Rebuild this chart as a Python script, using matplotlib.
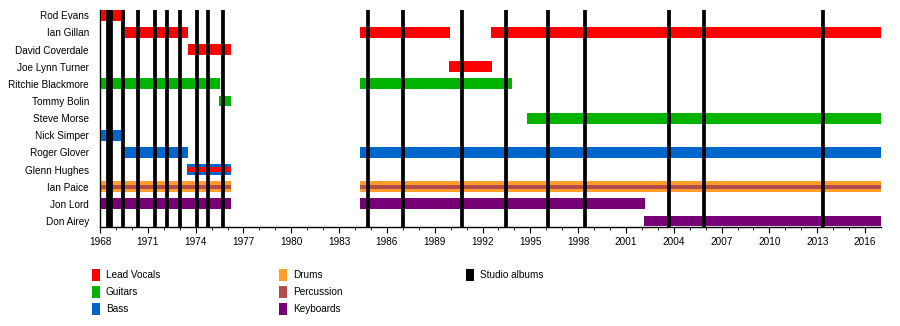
import matplotlib
matplotlib.use("Agg")
import matplotlib.pyplot as plt
from matplotlib.patches import Rectangle

plt.rcParams['font.family'] = ['Liberation Sans', 'DejaVu Sans']

# band members, top to bottom
members = ["Rod Evans", "Ian Gillan", "David Coverdale", "Joe Lynn Turner",
           "Ritchie Blackmore", "Tommy Bolin", "Steve Morse", "Nick Simper",
           "Roger Glover", "Glenn Hughes", "Ian Paice", "Jon Lord", "Don Airey"]

start_year = 1968.0
end_year = 2017.0

# (member, from, till) per role
vocals = [("Rod Evans", 1968.0, 1969.57),
          ("Ian Gillan", 1969.57, 1973.5),
          ("Ian Gillan", 1984.32, 1989.95),
          ("Ian Gillan", 1992.55, end_year),
          ("David Coverdale", 1973.5, 1976.22),
          ("Joe Lynn Turner", 1989.9, 1992.6)]
guitars = [("Ritchie Blackmore", 1968.0, 1975.53),
           ("Ritchie Blackmore", 1984.32, 1993.84),
           ("Tommy Bolin", 1975.47, 1976.22),
           ("Steve Morse", 1994.8, end_year)]
bass = [("Nick Simper", 1968.0, 1969.5),
        ("Roger Glover", 1969.5, 1973.5),
        ("Roger Glover", 1984.32, end_year),
        ("Glenn Hughes", 1973.45, 1976.22)]
drums = [("Ian Paice", 1968.0, 1976.22),
         ("Ian Paice", 1984.32, end_year)]
keyboards = [("Jon Lord", 1968.0, 1976.22),
             ("Jon Lord", 1984.32, 2002.2),
             ("Don Airey", 2002.15, end_year)]
# thin stripes drawn inside another bar
vocals_stripe = [("Glenn Hughes", 1973.45, 1976.22)]
percussion_stripe = [("Ian Paice", 1968.0, 1976.22),
                     ("Ian Paice", 1984.32, end_year)]

studio_albums = [1968.48, 1968.69, 1969.46, 1970.40, 1971.47, 1972.22,
                 1973.04, 1974.10, 1974.79, 1975.73, 1984.84, 1987.0,
                 1990.71, 1993.47, 1996.1, 1998.4, 2003.67, 2005.87, 2013.34]

colors = {
    "Lead Vocals": "#ff0000",
    "Guitars": "#00b300",
    "Bass": "#0066cc",
    "Drums": "#ff9e2a",
    "Percussion": "#b34d4d",
    "Keyboards": "#770077",
    "Studio albums": "#000000",
}

fig = plt.figure(figsize=(9, 3.26), dpi=100)
ax = fig.add_axes([100 / 900, 1 - 227 / 326, 781 / 900, 217 / 326])

row = {name: i for i, name in enumerate(members)}


def draw(spans, color, height):
    for name, a, b in spans:
        ax.barh(row[name], b - a, left=a, height=height, color=color,
                linewidth=0, zorder=2)


draw(vocals, colors["Lead Vocals"], 0.63)
draw(guitars, colors["Guitars"], 0.63)
draw(bass, colors["Bass"], 0.63)
draw(drums, colors["Drums"], 0.63)
draw(keyboards, colors["Keyboards"], 0.63)
draw(vocals_stripe, colors["Lead Vocals"], 0.27)
draw(percussion_stripe, colors["Percussion"], 0.25)

for yr in studio_albums:
    ax.axvline(yr, color="black", linewidth=2.7, zorder=3)

ax.set_xlim(start_year, end_year)
ax.set_ylim(12.35, -0.31)
ax.set_yticks(range(len(members)))
ax.set_yticklabels(members)
ax.set_xticks(range(1968, 2017, 3))
ax.set_xticks(range(1968, 2017), minor=True)
ax.tick_params(axis="y", length=0, pad=8, labelsize=7.2)
ax.tick_params(axis="x", which="major", length=4, width=0.8, labelsize=7.2, pad=3)
ax.tick_params(axis="x", which="minor", length=2, width=0.6)
for s in ("top", "right"):
    ax.spines[s].set_visible(False)
ax.spines["left"].set_linewidth(1)
ax.spines["bottom"].set_linewidth(1)

# legend block under the chart
legend_cols = [["Lead Vocals", "Guitars", "Bass"],
               ["Drums", "Percussion", "Keyboards"],
               ["Studio albums"]]
col_x = [92, 279, 466]
row_y = [275, 292, 309]
for cx, labels in zip(col_x, legend_cols):
    for ry, label in zip(row_y, labels):
        fig.patches.append(Rectangle((cx / 900, 1 - (ry + 6) / 326), 8 / 900, 12 / 326,
                                     transform=fig.transFigure,
                                     color=colors[label], linewidth=0))
        fig.text((cx + 14) / 900, 1 - ry / 326, label, fontsize=7.2, va="center")

fig.savefig("out.png", dpi=100)
